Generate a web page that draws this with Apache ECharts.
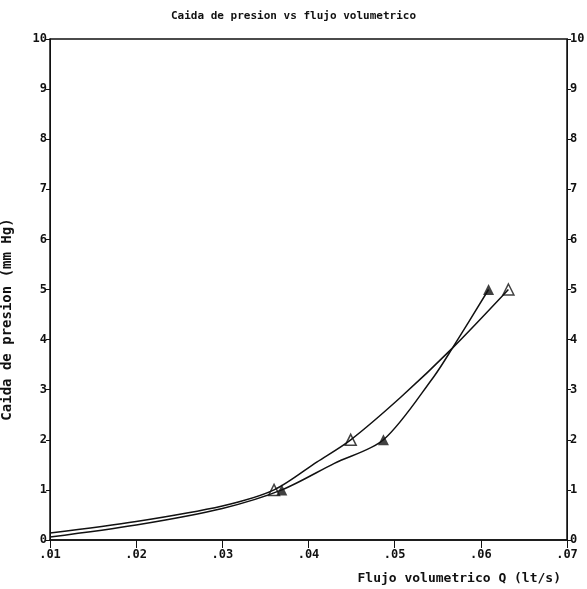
<!DOCTYPE html>
<html>
<head>
<meta charset="utf-8">
<script src="https://cdn.jsdelivr.net/npm/echarts@6/dist/echarts.min.js"></script>
<style>
  html, body { margin: 0; padding: 0; background: #fff; }
  #chart { width: 587px; height: 589px; }
</style>
</head>
<body>
<div id="chart"></div>
<script>
// measured points (triangles)
const filledQ = [0.0369, 0.0487, 0.0609];
const filledP = [1, 2, 5];
const openQ = [0.036, 0.0449, 0.0632];
const openP = [1, 2, 5];

// fitted curves
const filledCurveQ = [0.01, 0.02, 0.03, 0.0369, 0.043, 0.0487, 0.0545, 0.0567, 0.0609];
const filledCurveP = [0.06, 0.30, 0.63, 1.0, 1.53, 2.0, 3.25, 3.83, 5.0];
const openCurveQ = [0.01, 0.02, 0.03, 0.036, 0.041, 0.0449, 0.0507, 0.0567, 0.0632];
const openCurveP = [0.14, 0.37, 0.68, 1.0, 1.56, 2.0, 2.85, 3.83, 5.0];

const xTickLabels = ['.01', '.02', '.03', '.04', '.05', '.06', '.07'];

function pairs(xs, ys) {
    let out = [];
    for (let i = 0; i < xs.length; i++) out.push([xs[i], ys[i]]);
    return out;
}

const font = 'DejaVu Sans Mono';
const ink = '#111';

let option = {
    animation: false,
    backgroundColor: '#fff',
    title: {
        text: 'Caida de presion vs flujo volumetrico',
        left: 'center',
        top: 6,
        textStyle: { fontFamily: font, fontSize: 11, fontWeight: 'bold', color: ink }
    },
    grid: {
        left: 50, right: 20, top: 39, bottom: 49,
        containLabel: false, outerBoundsMode: 'none',
        show: true, borderColor: ink, borderWidth: 1.5
    },
    xAxis: {
        type: 'value',
        min: 0.01,
        max: 0.07,
        interval: 0.01,
        name: 'Flujo volumetrico Q (lt/s)',
        nameLocation: 'end',
        nameGap: 0,
        nameTextStyle: {
            fontFamily: font, fontSize: 13, fontWeight: 'bold', color: ink,
            align: 'right', verticalAlign: 'top', padding: [32, 6, 0, 0]
        },
        axisLine: { lineStyle: { color: ink, width: 1.5 } },
        axisTick: { length: 8, lineStyle: { color: ink } },
        splitLine: { show: false },
        axisLabel: {
            fontFamily: font, fontSize: 12, fontWeight: 'bold', color: ink, margin: 9,
            formatter: function (v) { return xTickLabels[Math.round(v * 100) - 1]; }
        }
    },
    yAxis: [
        {
            type: 'value',
            min: 0,
            max: 10,
            interval: 1,
            name: 'Caida de presion (mm Hg)',
            nameLocation: 'middle',
            nameGap: 36,
            nameTextStyle: {
                fontFamily: font, fontSize: 14, fontWeight: 'bold', color: ink,
                padding: [0, 60, 0, 0]
            },
            axisLine: { show: true, lineStyle: { color: ink, width: 1 } },
            axisTick: { length: 4, lineStyle: { color: ink } },
            splitLine: { show: false },
            axisLabel: { fontFamily: font, fontSize: 12, fontWeight: 'bold', color: ink, margin: 3 }
        },
        {
            type: 'value',
            position: 'right',
            min: 0,
            max: 10,
            interval: 1,
            axisLine: { show: true, lineStyle: { color: ink, width: 1 } },
            axisTick: { length: 4, lineStyle: { color: ink } },
            splitLine: { show: false },
            axisLabel: { fontFamily: font, fontSize: 12, fontWeight: 'bold', color: ink, margin: 3 }
        }
    ],
    series: [
        {
            type: 'line',
            smooth: 0.3,
            symbol: 'none',
            lineStyle: { color: ink, width: 1.5 },
            data: pairs(filledCurveQ, filledCurveP)
        },
        {
            type: 'line',
            smooth: 0.3,
            symbol: 'none',
            lineStyle: { color: ink, width: 1.5 },
            data: pairs(openCurveQ, openCurveP)
        },
        {
            type: 'scatter',
            symbol: 'triangle',
            symbolSize: 11,
            itemStyle: { color: '#fff', borderColor: ink, borderWidth: 1.5 },
            data: pairs(openQ, openP)
        },
        {
            type: 'scatter',
            symbol: 'triangle',
            symbolSize: 11,
            itemStyle: { color: ink },
            data: pairs(filledQ, filledP)
        }
    ]
};

var chart = echarts.init(document.getElementById('chart'));
chart.setOption(option);
</script>
</body>
</html>
